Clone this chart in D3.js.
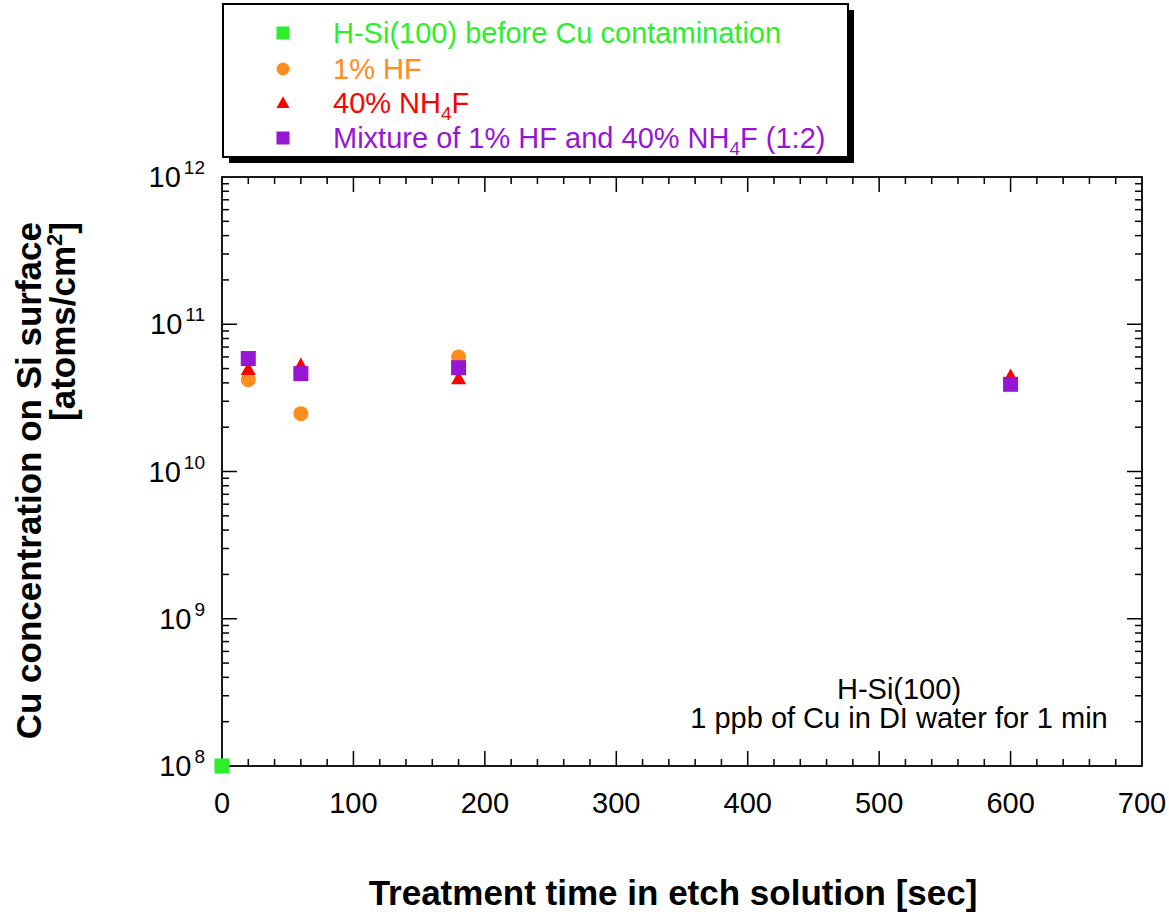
<!DOCTYPE html>
<html>
<head>
<meta charset="utf-8">
<script src="https://cdn.jsdelivr.net/npm/d3@7"></script>
<style>
  html, body { margin: 0; padding: 0; background: #fff; }
  svg { display: block; font-family: "Liberation Sans", Arial, sans-serif; }
</style>
</head>
<body>
<svg id="chart" width="1169" height="912"></svg>
<script>
// ---- data ----
const seriesNames = ["H-Si(100) before Cu contamination", "1% HF", "40% NH4F", "Mixture of 1% HF and 40% NH4F (1:2)"];
const seriesColors = ["#2bef2b", "#ff8c1e", "#ff0000", "#9616d6"];
const seriesShapes = ["square", "circle", "triangle", "square"];

const beforeTimes = [0];
const beforeValues = [1e8];

const hfTimes = [20, 60, 180];
const hfValues = [4.2e10, 2.47e10, 6.0e10];

const nh4fTimes = [20, 60, 180, 600];
const nh4fValues = [4.94e10, 5.26e10, 4.27e10, 4.43e10];

const mixTimes = [20, 60, 180, 600];
const mixValues = [5.85e10, 4.62e10, 5.07e10, 3.91e10];

const xTicks = [0, 100, 200, 300, 400, 500, 600, 700];
const yExponents = [8, 9, 10, 11, 12];

const xTitle = "Treatment time in etch solution [sec]";
const yTitle1 = "Cu concentration on Si surface";
const annotation1 = "H-Si(100)";
const annotation2 = "1 ppb of Cu in DI water for 1 min";

// ---- layout ----
const svg = d3.select("#chart");
const L = 222, R = 1142, T = 177, B = 766;
const x = d3.scaleLinear().domain([0, 700]).range([L, R]);
const y = d3.scaleLog().domain([1e8, 1e12]).range([B, T]);

// ---- ticks ----
const tickG = svg.append("g").attr("stroke", "#000").attr("stroke-width", 1.5);
const xMinor = d3.range(0, 701, 20);
xMinor.forEach(v => {
  const len = (v % 100 === 0) ? 15 : 7;
  if (v === 0 || v === 700) return;
  tickG.append("line").attr("x1", x(v)).attr("x2", x(v)).attr("y1", B).attr("y2", B - len);
  tickG.append("line").attr("x1", x(v)).attr("x2", x(v)).attr("y1", T).attr("y2", T + len);
});
const yTickVals = [];
for (let e = 8; e < 12; e++) for (let k = 1; k <= 9; k++) yTickVals.push(k * Math.pow(10, e));
yTickVals.forEach(v => {
  const major = Math.abs(Math.log10(v) - Math.round(Math.log10(v))) < 1e-9;
  const len = major ? 15 : 7;
  if (v === 1e8) return;
  tickG.append("line").attr("x1", L).attr("x2", L + len).attr("y1", y(v)).attr("y2", y(v));
  tickG.append("line").attr("x1", R).attr("x2", R - len).attr("y1", y(v)).attr("y2", y(v));
});

// frame
svg.append("rect").attr("x", L).attr("y", T).attr("width", R - L).attr("height", B - T)
  .attr("fill", "none").attr("stroke", "#000").attr("stroke-width", 1.8);

// x tick labels
svg.append("g").selectAll("text").data(xTicks).join("text")
  .attr("x", d => x(d)).attr("y", 813).attr("text-anchor", "middle")
  .attr("font-size", 29).attr("fill", "#000").text(d => d);

// y tick labels
const yl = svg.append("g").selectAll("text").data(yExponents).join("text")
  .attr("x", 205).attr("y", d => y(Math.pow(10, d)) + 10).attr("text-anchor", "end")
  .attr("font-size", 29).attr("fill", "#000");
yl.append("tspan").text("10");
yl.append("tspan").attr("font-size", 19).attr("dx", 3).attr("dy", -13).text(d => d);

// axis titles
svg.append("text").attr("x", 673).attr("y", 905).attr("text-anchor", "middle")
  .attr("font-size", 35).attr("font-weight", "bold").attr("fill", "#000").text(xTitle);

const yt = svg.append("g").attr("transform", "rotate(-90)");
yt.append("text").attr("x", -222).attr("y", 41).attr("text-anchor", "end")
  .attr("font-size", 35).attr("font-weight", "bold").attr("fill", "#000").text(yTitle1);
const yt2 = yt.append("text").attr("x", -222).attr("y", 75).attr("text-anchor", "end")
  .attr("font-size", 35).attr("font-weight", "bold").attr("fill", "#000");
yt2.append("tspan").text("[atoms/cm");
yt2.append("tspan").attr("font-size", 22).attr("dy", -13).text("2");
yt2.append("tspan").attr("dy", 13).text("]");

// annotation
svg.append("text").attr("x", 899).attr("y", 699).attr("text-anchor", "middle")
  .attr("font-size", 29).attr("fill", "#000").text(annotation1);
svg.append("text").attr("x", 899).attr("y", 728).attr("text-anchor", "middle")
  .attr("font-size", 29).attr("fill", "#000").text(annotation2);

// ---- markers ----
function drawMarker(g, shape, cx, cy, color, s) {
  if (shape === "square") {
    g.append("rect").attr("x", cx - s / 2).attr("y", cy - s / 2).attr("width", s).attr("height", s).attr("fill", color);
  } else if (shape === "circle") {
    g.append("circle").attr("cx", cx).attr("cy", cy).attr("r", s / 2).attr("fill", color);
  } else {
    const h = s * 0.9;
    g.append("path").attr("d", `M${cx},${cy - h * 0.58}L${cx + s / 2},${cy + h * 0.42}L${cx - s / 2},${cy + h * 0.42}Z`).attr("fill", color);
  }
}
const markG = svg.append("g");
const plotSeries = [
  [hfTimes, hfValues, 1],
  [nh4fTimes, nh4fValues, 2],
  [mixTimes, mixValues, 3],
  [beforeTimes, beforeValues, 0]
];
plotSeries.forEach(([ts, vs, i]) => {
  ts.forEach((t, j) => drawMarker(markG, seriesShapes[i], x(t), y(vs[j]), seriesColors[i], 15));
});

// ---- legend ----
const lg = svg.append("g");
lg.append("rect").attr("x", 229).attr("y", 10).attr("width", 625).attr("height", 153).attr("fill", "#000");
lg.append("rect").attr("x", 223).attr("y", 4).attr("width", 625).attr("height", 153)
  .attr("fill", "#fff").attr("stroke", "#000").attr("stroke-width", 2);
const rowY = [33, 69, 103, 138];
seriesNames.forEach((name, i) => {
  drawMarker(lg, seriesShapes[i], 283, rowY[i], seriesColors[i], 13);
  const t = lg.append("text").attr("x", 333).attr("y", rowY[i] + 10).attr("font-size", 29).attr("fill", seriesColors[i]);
  const parts = name.split("NH4F");
  if (parts.length === 1) { t.text(name); }
  else {
    t.append("tspan").text(parts[0] + "NH");
    t.append("tspan").attr("font-size", 19).attr("dy", 7).text("4");
    t.append("tspan").attr("dy", -7).text("F" + parts[1]);
  }
});
</script>
</body>
</html>
